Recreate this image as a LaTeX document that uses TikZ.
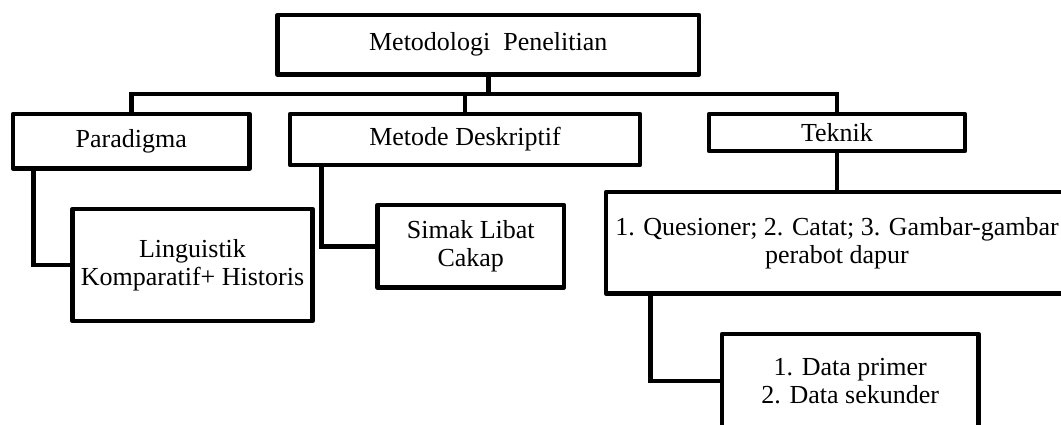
\documentclass[tikz,border=0pt]{standalone}
\usepackage{fontspec}
\setmainfont{Liberation Serif}
\begin{document}
\begin{tikzpicture}[x=1pt,y=-1pt,
  box/.style={draw, line width=4.6pt, line join=round, inner sep=0pt, align=center,
    font=\fontsize{26}{28}\selectfont},
  conn/.style={draw, line width=4.6pt, line join=miter}]
\useasboundingbox (0,0) rectangle (1061,425);
\clip (0,0) rectangle (1061,425);
\node[box, minimum width=421.5pt, minimum height=59.5pt] (top) at (488.25,44.75) {Metodologi\ \ Penelitian};
\node[box, minimum width=236.5pt, minimum height=54.5pt] (par) at (131.25,141.25) {Paradigma};
\node[box, minimum width=350pt, minimum height=51pt] (met) at (465,139.5) {Metode Deskriptif};
\node[box, minimum width=256pt, minimum height=37pt] (tek) at (837,132.5) {Teknik};
\node[box, minimum width=240pt, minimum height=112pt] (ling) at (192.5,265) {Linguistik\\Komparatif+ Historis};
\node[box, minimum width=186.5pt, minimum height=82.5pt] (sim) at (470.75,246.25) {Simak Libat\\Cakap};
\node[box, minimum width=462pt, minimum height=101.5pt] (que) at (837,242.75) {1. Quesioner; 2. Catat; 3. Gambar-gambar\\perabot dapur};
\node[box, minimum width=256.5pt, minimum height=94pt] (dat) at (850.25,381) {1. Data primer\\2. Data sekunder};
\coordinate (barL) at (131.25,94);
\draw[conn] (par.north) -- (par.north |- barL) -| (tek.north);
\draw[conn] (top.south) -- (top.south |- barL);
\draw[conn] (met.north) -- (met.north |- barL);
\draw[conn] (tek.south) -- (que.north);
\draw[conn] (par.south west) ++(22.8,0) |- (ling.west);
\draw[conn] (met.south west) ++(34,0) |- (sim.west);
\draw[conn] (que.south west) ++(46.5,0) |- (dat.west);
\end{tikzpicture}
\end{document}
